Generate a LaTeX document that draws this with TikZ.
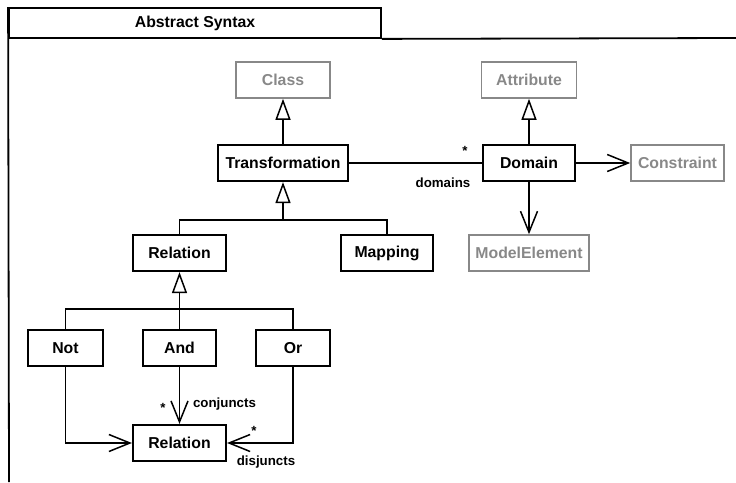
\documentclass[tikz,border=0pt]{standalone}
\usepackage{fontspec}
\setmainfont{Liberation Sans}
\usetikzlibrary{arrows.meta}
\definecolor{extgray}{RGB}{136,136,136}
\tikzset{
  cls/.style={draw, line width=2.2pt, minimum height=36pt, inner sep=0pt,
    font=\fontsize{15.8}{18}\selectfont\bfseries},
  ext/.style={cls, draw=extgray, text=extgray, line width=1.6pt},
  link/.style={line width=1.5pt},
  gen/.style={link, -{Triangle[open, length=21pt, width=15pt]}},
  nav/.style={link, -{Straight Barb[length=21pt, width=17pt]}},
  lbl/.style={font=\fontsize{13.3}{15}\selectfont\bfseries, inner sep=0pt},
}
\begin{document}
\begin{tikzpicture}[x=1pt, y=-1pt]
      \useasboundingbox (0,0) rectangle (736,482);
      % frame
      \node[draw, line width=1.8pt, minimum width=372pt, minimum height=30pt,
        font=\fontsize{15.8}{18}\selectfont\bfseries] (title) at (195,23) {Abstract Syntax};
      \draw[line width=1.8pt] (title.south east) -- (736,38);
      \draw[line width=1.8pt] (title.north west) -- (9,482);
      % classes
      \node[ext, minimum width=94pt] (class) at (283,80) {Class};
      \node[cls, minimum width=130pt] (trans) at (283,163) {Transformation};
      \node[ext, minimum width=95pt] (attr) at (529,80) {Attribute};
      \node[cls, minimum width=92pt] (domain) at (529,163) {Domain};
      \node[ext, minimum width=93pt] (constr) at (677.5,163) {Constraint};
      \node[ext, minimum width=120pt] (model) at (529,253) {ModelElement};
      \node[cls, minimum width=93pt] (rel) at (179.5,253) {Relation};
      \node[cls, minimum width=92pt] (map) at (387,253) {Mapping};
      \node[cls, minimum width=75pt] (not) at (65.5,348) {Not};
      \node[cls, minimum width=73pt] (and) at (179.5,348) {And};
      \node[cls, minimum width=74pt] (or) at (293,348) {Or};
      \node[cls, minimum width=93pt] (relb) at (179.5,443) {Relation};
      % junctions
      \coordinate (tj) at (283,220);
      \coordinate (rj) at (179.5,309);
      % generalizations
      \draw[gen] (trans) -- (class);
      \draw[gen] (domain) -- (attr);
      \draw[gen] (rel.north) |- (tj) -- (trans.south);
      \draw[link] (map.north) |- (tj);
      \draw[gen] (not.north) |- (rj) -- (rel.south);
      \draw[link] (and.north) -- (rj);
      \draw[link] (or.north) |- (rj);
      % associations
      \draw[link] (trans) -- (domain);
      \draw[nav] (domain) -- (constr);
      \draw[nav] (domain) -- (model);
      \draw[nav] (not.south) |- (relb.west);
      \draw[nav] (and) -- (relb);
      \draw[nav] (or.south) |- (relb.east);
      % role names
      \node[lbl, anchor=north] (dstar) at (465,146) {*};
      \node[lbl, anchor=base] (dname) at (443,187) {domains};
      \node[lbl, anchor=north] (cstar) at (163,403) {*};
      \node[lbl, anchor=base] (cname) at (224.5,407) {conjuncts};
      \node[lbl, anchor=north] (ostar) at (254,426) {*};
      \node[lbl, anchor=base] (oname) at (266,465) {disjuncts};
    \end{tikzpicture}
\end{document}
